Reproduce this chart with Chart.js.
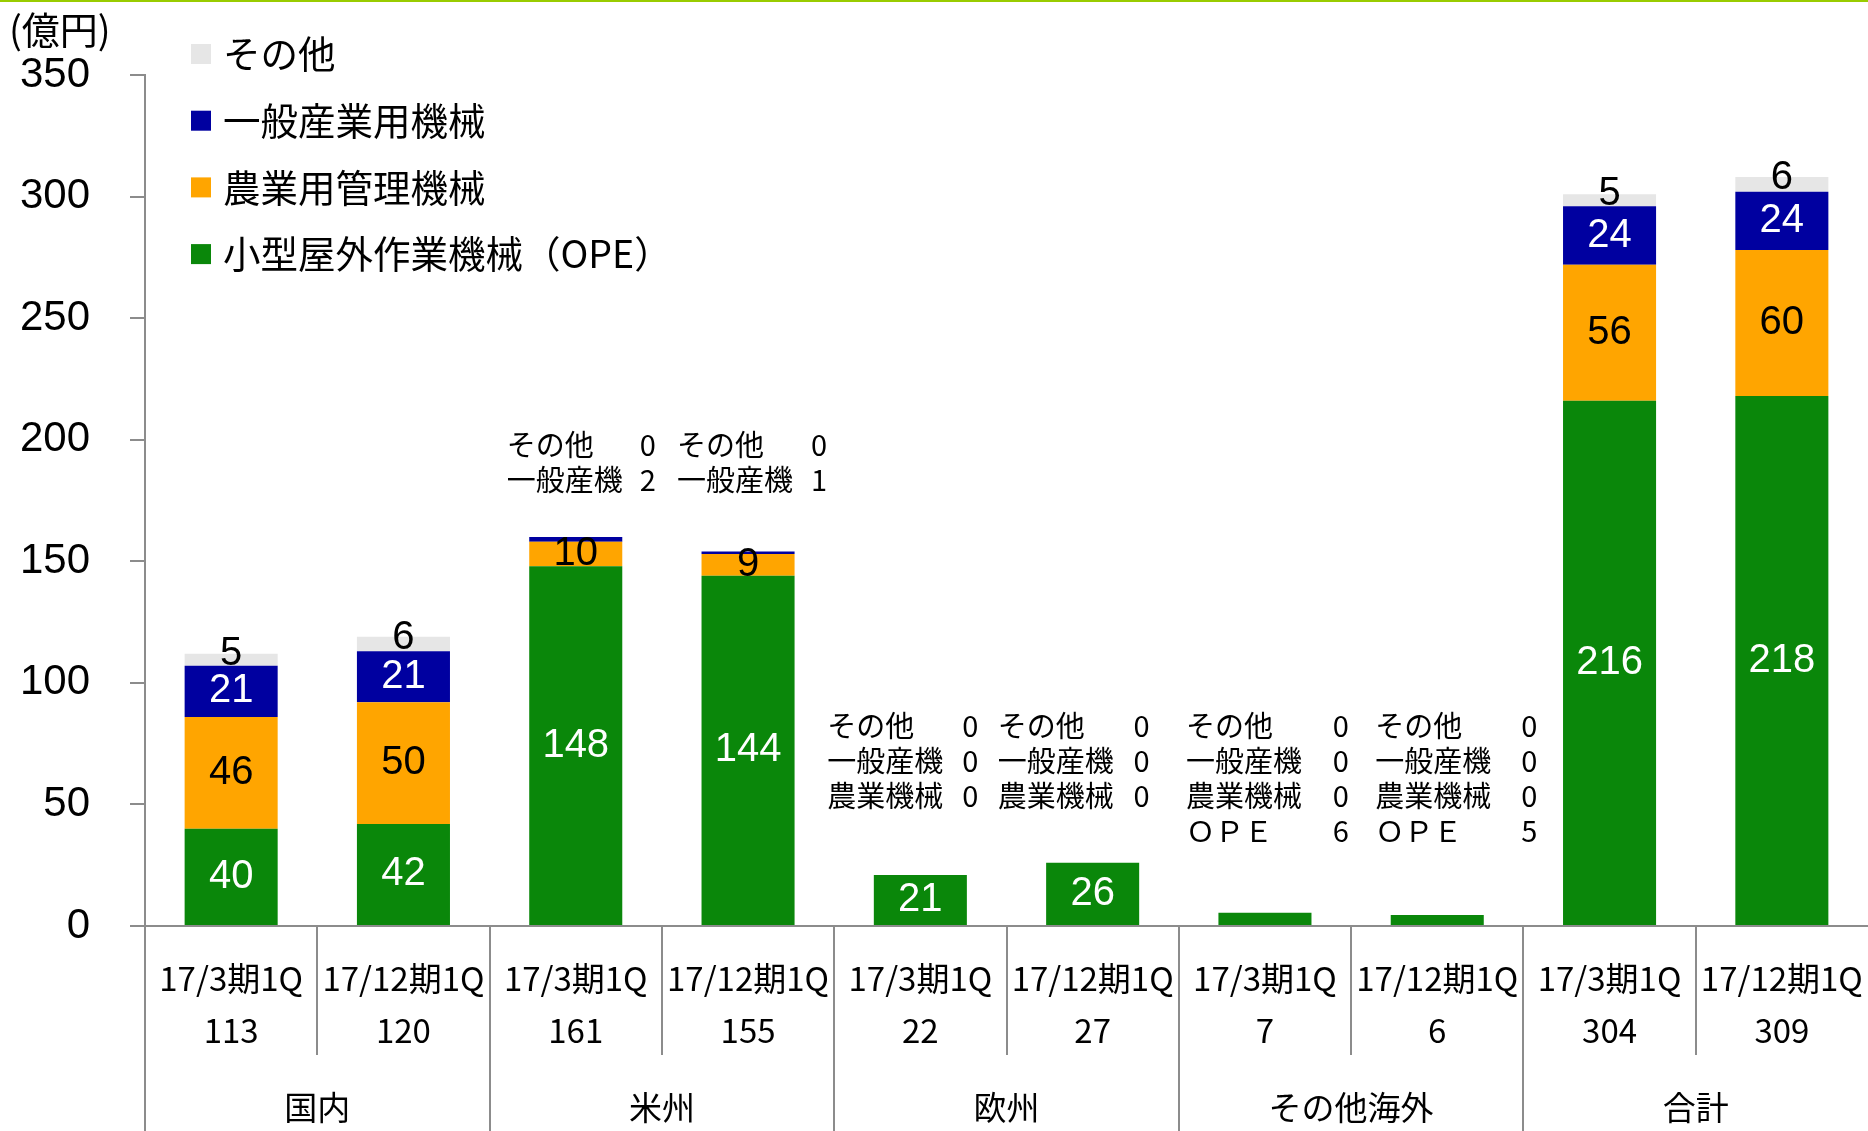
<!DOCTYPE html>
<html lang="ja">
<head>
<meta charset="UTF-8" />
<title>地域別・製品別売上高</title>
<script src="https://cdn.jsdelivr.net/npm/chart.js"></script>
<style>
    body {
        margin: 0;
        background: #fff;
    }

    .grafico-box {
        width: 1868px;
        height: 1131px;
        position: relative;
    }
</style>
</head>
<body>
<div class="grafico-box"><canvas id="grafico"></canvas></div>

<script>
    // Dados (億円)
    const periodos = ['17/3期1Q', '17/12期1Q', '17/3期1Q', '17/12期1Q', '17/3期1Q', '17/12期1Q', '17/3期1Q', '17/12期1Q', '17/3期1Q', '17/12期1Q'];
    const regioes = ['国内', '米州', '欧州', 'その他海外', '合計'];
    const totais = [113, 120, 161, 155, 22, 27, 7, 6, 304, 309];

    const ope = [40, 42, 148, 144, 21, 26, 5.5, 4.5, 216, 218];
    const agricola = [46, 50, 10, 9, 0, 0, 0, 0, 56, 60];
    const industrial = [21, 21, 2, 1, 0, 0, 0, 0, 24, 24];
    const outros = [5, 6, 0, 0, 0, 0, 0, 0, 5, 6];

    const nomes = ['小型屋外作業機械（OPE）', '農業用管理機械', '一般産業用機械', 'その他'];
    const nomesCurtos = ['ＯＰＥ', '農業機械', '一般産機', 'その他'];
    // séries listadas nas caixas de texto de cada barra (índice do dataset)
    const notas = [[], [], [3, 2], [3, 2], [3, 2, 1], [3, 2, 1], [3, 2, 1, 0], [3, 2, 1, 0], [], []];

    const series = [ope, agricola, industrial, outros];
    const cores = ['#0A870A', '#FFA500', '#0000A0', '#E6E6E6'];
    const corRotulo = ['#fff', '#000', '#fff', '#000'];

    const jp = '"Noto Sans CJK JP", sans-serif';
    const num = '"Liberation Sans", Arial, sans-serif';
    const cinza = '#8c8c8c';

    // posição das caixas de texto (valor do eixo y da 1a linha, deslocamentos x)
    const notaTopo = [0, 0, 197.8, 197.8, 82.3, 82.3, 82.3, 82.3, 0, 0];
    const notaX = [null, null, [-69, 80], [-71, 79], [-93, 58], [-95, 57], [-79, 84], [-62, 100], null, null];

    const desenho = {
        id: 'desenho',
        afterDatasetsDraw(chart) {
            const ctx = chart.ctx;
            const x = chart.scales.x, y = chart.scales.y;
            ctx.save();
            ctx.textAlign = 'center';
            ctx.textBaseline = 'middle';
            ctx.font = '40px ' + num;
            chart.data.datasets.forEach((ds, d) => {
                chart.getDatasetMeta(d).data.forEach((bar, i) => {
                    const v = ds.data[i];
                    if (!v || notas[i].includes(d)) return;
                    const cy = (bar.y + bar.base) / 2 + (d === 3 ? -6 : 0);
                    ctx.fillStyle = corRotulo[d];
                    ctx.fillText(Math.round(v), bar.x, cy);
                });
            });

            // caixas de texto com os valores pequenos
            ctx.font = '29px ' + jp;
            ctx.fillStyle = '#000';
            notas.forEach((lista, i) => {
                if (!lista.length) return;
                const cx = x.getPixelForValue(i);
                let ly = y.getPixelForValue(notaTopo[i]);
                lista.forEach(d => {
                    ctx.textAlign = 'left';
                    ctx.fillText(nomesCurtos[d], cx + notaX[i][0], ly);
                    ctx.textAlign = 'right';
                    ctx.fillText(Math.round(series[d][i]), cx + notaX[i][1], ly);
                    ly += 35;
                });
            });
            ctx.restore();
        },
        afterDraw(chart) {
            const ctx = chart.ctx;
            const x = chart.scales.x;
            const base = chart.chartArea.bottom;
            const H = chart.height;
            const meia = (x.getPixelForValue(1) - x.getPixelForValue(0)) / 2;
            ctx.save();

            // linha verde no topo
            ctx.fillStyle = '#99CC00';
            ctx.fillRect(0, 0, chart.width, 2);

            // unidade
            ctx.fillStyle = '#000';
            ctx.font = '38px ' + jp;
            ctx.textAlign = 'left';
            ctx.textBaseline = 'middle';
            ctx.fillText('(億円)', 9, 30);

            // legenda
            ctx.font = '37.5px ' + jp;
            [3, 2, 1, 0].forEach((d, k) => {
                const ly = 54 + k * 66.7;
                ctx.fillStyle = cores[d];
                ctx.fillRect(191, ly - 10, 20, 20);
                ctx.fillStyle = '#000';
                ctx.fillText(nomes[d], 223, ly);
            });

            // separadores do eixo x
            ctx.strokeStyle = cinza;
            ctx.lineWidth = 2;
            periodos.forEach((p, i) => {
                const bx = Math.round(x.getPixelForValue(i) - meia);
                ctx.beginPath();
                ctx.moveTo(bx, base);
                ctx.lineTo(bx, i % 2 === 0 ? H : 1055);
                ctx.stroke();
            });

            // rótulos do eixo x
            ctx.fillStyle = '#000';
            ctx.textAlign = 'center';
            ctx.font = '33px ' + jp;
            periodos.forEach((p, i) => {
                const cx = x.getPixelForValue(i);
                ctx.fillText(p, cx, 978);
                ctx.fillText(totais[i], cx, 1030);
            });
            regioes.forEach((r, g) => {
                const cx = (x.getPixelForValue(g * 2) + x.getPixelForValue(g * 2 + 1)) / 2;
                ctx.fillText(r, cx, 1107);
            });
            ctx.restore();
        }
    };

    new Chart(document.getElementById('grafico'), {
        type: 'bar',
        data: {
            labels: periodos,
            datasets: series.map((s, d) => ({
                label: nomes[d],
                data: s,
                backgroundColor: cores[d],
                borderWidth: 0,
                categoryPercentage: 1,
                barPercentage: 0.54
            }))
        },
        options: {
            responsive: true,
            maintainAspectRatio: false,
            animation: false,
            layout: {
                autoPadding: false,
                padding: { top: 75, left: 0, right: 0, bottom: 0 }
            },
            scales: {
                x: {
                    stacked: true,
                    ticks: { display: false },
                    grid: { display: false },
                    border: { color: cinza, width: 2 },
                    afterFit: s => { s.height = 205; }
                },
                y: {
                    stacked: true,
                    min: 0,
                    max: 350,
                    ticks: { stepSize: 50, color: '#000', font: { family: num, size: 42 }, padding: 40 },
                    grid: { drawOnChartArea: false, drawTicks: true, tickLength: 15, color: cinza, lineWidth: 2 },
                    border: { color: cinza, width: 2 },
                    afterFit: s => { s.width = 145; }
                }
            },
            plugins: {
                legend: { display: false },
                tooltip: { enabled: false }
            }
        },
        plugins: [desenho]
    });
</script>
</body>
</html>
